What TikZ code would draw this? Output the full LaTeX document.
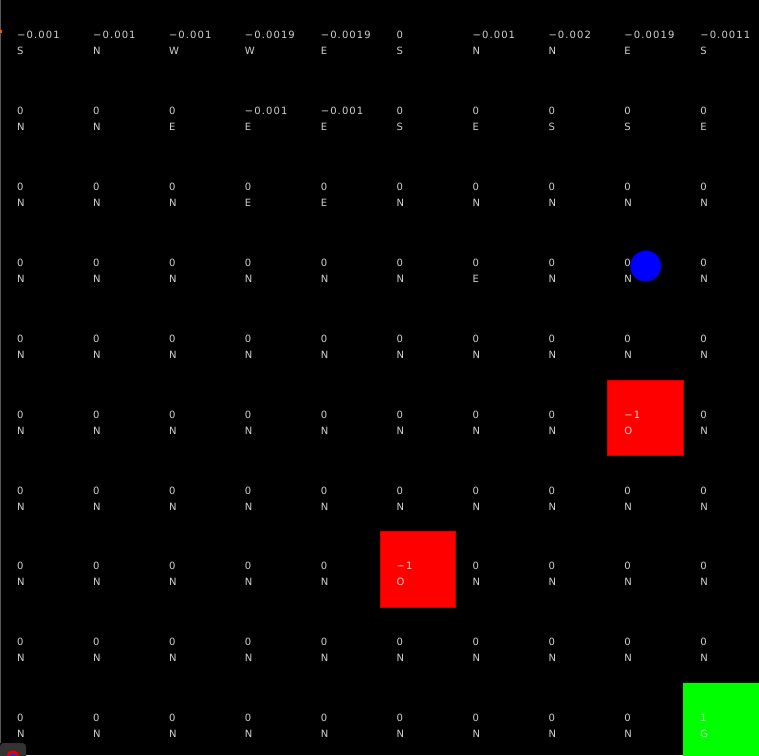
\documentclass[tikz,border=0pt]{standalone}
\usepackage{fontspec}
\newfontfamily\gridfont[LetterSpace=11]{DejaVu Sans}
\newcommand\gridrow[2]{%
  \foreach \vv/\aa [count=\cc from 0] in {#2} {%
    \node[val] (v#1-\cc) at ({75.9*\cc+17},{75.9*#1+38.6}) {\vv};
    \node[val] (a#1-\cc) at ({75.9*\cc+17},{75.9*#1+54.6}) {\aa};
  }}
\begin{document}
\begin{tikzpicture}[x=1pt,y=-1pt,
  val/.style={anchor=base west, inner sep=0pt, font=\gridfont\fontsize{10}{10}\selectfont, text=white, text opacity=0.82},
  hazard/.style={anchor=north west, minimum size=75.9pt, inner sep=0pt, fill=red, draw=red!80!black, line width=0.6pt},
  goal/.style={anchor=north west, minimum size=75.9pt, inner sep=0pt, fill=green},
  agent/.style={circle, fill=blue, minimum size=31pt, inner sep=0pt}]
\useasboundingbox (0,0) rectangle (759,755);
\clip (0,0) rectangle (759,755);
\fill[black] (0,0) rectangle (759,755);
\draw[black!65, line width=1pt] (0.8,0) -- (0.8,743);
\fill[orange!70!red] (0,30) rectangle (1.5,33);
\node[hazard] (hz1) at (607.2,379.5) {};
\node[hazard] (hz2) at (379.5,531.3) {};
\node[goal] (goal) at (683.1,683.1) {};
\gridrow{0}{−0.001/S,−0.001/N,−0.001/W,−0.0019/W,−0.0019/E,0/S,−0.001/N,−0.002/N,−0.0019/E,−0.0011/S}
\gridrow{1}{0/N,0/N,0/E,−0.001/E,−0.001/E,0/S,0/E,0/S,0/S,0/E}
\gridrow{2}{0/N,0/N,0/N,0/E,0/E,0/N,0/N,0/N,0/N,0/N}
\gridrow{3}{0/N,0/N,0/N,0/N,0/N,0/N,0/E,0/N,0/N,0/N}
\gridrow{4}{0/N,0/N,0/N,0/N,0/N,0/N,0/N,0/N,0/N,0/N}
\gridrow{5}{0/N,0/N,0/N,0/N,0/N,0/N,0/N,0/N,−1/O,0/N}
\gridrow{6}{0/N,0/N,0/N,0/N,0/N,0/N,0/N,0/N,0/N,0/N}
\gridrow{7}{0/N,0/N,0/N,0/N,0/N,−1/O,0/N,0/N,0/N,0/N}
\gridrow{8}{0/N,0/N,0/N,0/N,0/N,0/N,0/N,0/N,0/N,0/N}
\gridrow{9}{0/N,0/N,0/N,0/N,0/N,0/N,0/N,0/N,0/N,1/G}
\node[agent] (ag) at (645.8,266.2) {};
\fill[black!80, rounded corners=3.5pt] (0,743) rectangle (26,765);
\fill[red!90!black] (13,757) circle (6.5);
\fill[blue!80!cyan] (13,758) circle (4.2);
\end{tikzpicture}
\end{document}
